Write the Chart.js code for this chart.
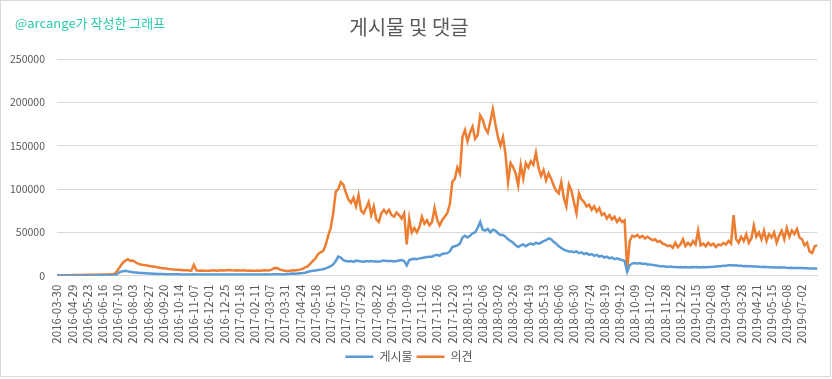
<!DOCTYPE html>
<html>
<head>
<meta charset="utf-8">
<script src="https://cdn.jsdelivr.net/npm/chart.js@4.4.1/dist/chart.umd.min.js"></script>
<style>
  html, body { margin: 0; padding: 0; background: #fff; }
  #wrap { position: relative; width: 832px; height: 379px; overflow: hidden; }
  #frame { position: absolute; left: 0; top: 0; width: 829px; height: 375px; border: 1px solid #d9d9d9; pointer-events: none; }
  #mark { position: absolute; left: 15px; top: 13px; font-family: 'Noto Sans CJK KR', 'Noto Sans', sans-serif; font-size: 13px; color: #2bcbaa; white-space: nowrap; }
  canvas { position: absolute; left: 0; top: 0; }
</style>
</head>
<body>
<div id="wrap">
  <canvas id="c" width="832" height="379"></canvas>
  <div id="frame"></div>
  <div id="mark">@arcange가 작성한 그래프</div>
</div>
<script>
const chartTitle = '게시물 및 댓글';
const seriesNames = ['게시물', '의견'];
const tickLabels = [
  '2016-03-30','2016-04-29','2016-05-23','2016-06-16','2016-07-10','2016-08-03','2016-08-27','2016-09-20','2016-10-14','2016-11-07','2016-12-01','2016-12-25',
  '2017-01-18','2017-02-11','2017-03-07','2017-03-31','2017-04-24','2017-05-18','2017-06-11','2017-07-05','2017-07-29','2017-08-22','2017-09-15','2017-10-09','2017-11-02','2017-11-26','2017-12-20',
  '2018-01-13','2018-02-06','2018-03-02','2018-03-26','2018-04-19','2018-05-13','2018-06-06','2018-06-30','2018-07-24','2018-08-19','2018-09-12','2018-10-09','2018-11-02','2018-11-28','2018-12-22',
  '2019-01-15','2019-02-08','2019-03-04','2019-03-28','2019-04-21','2019-05-15','2019-06-08','2019-07-02'
];
const pointsPerTick = 6;
const yTicks = [0, 50000, 100000, 150000, 200000, 250000];

const postsSeries = [
  100,100,150,150,200,200, 200,200,250,250,300,300, 300,300,350,350,400,400, 400,400,450,500,500,700,
  2500,4500,5200,5800,5000,4500, 4000,3800,3500,3200,3000,2800, 2600,2500,2300,2200,2100,2000, 1900,1800,1800,1700,1700,1600,
  1600,1500,1500,1500,1500,1500, 1800,1500,1400,1500,1400,1400, 1400,1450,1500,1400,1450,1500, 1400,1500,1450,1500,1400,1450,
  1450,1400,1500,1450,1400,1500, 1450,1500,1400,1500,1550,1500, 1500,1600,1800,1700,1600,1500, 1800,2000,2200,2500,2300,2600,
  2800,3000,3500,4500,5200,5800, 6000,6500,7000,7500,8500,9500, 11000,13000,17000,22000,21000,18000, 17000,16500,17000,16000,17500,17000,
  16500,16000,17000,16500,17000,16500, 16500,16000,17000,17500,17000,17000, 17000,16500,17000,17500,18000,17000, 12000,18000,19000,19500,19000,20000,
  20500,21000,21500,22000,22000,23500, 24000,23000,25000,25500,26000,28000, 33000,34000,35000,37000,44000,46000, 44000,46000,49000,50000,55000,62000,
  53000,52000,54000,50000,53000,52000, 49000,47000,47000,45000,42000,40000, 38000,35000,33000,35000,36000,34000, 36000,37000,36000,38000,37000,38000,
  40000,41000,43000,42000,39000,37000, 34000,32000,30000,29000,28000,28000, 27000,28000,26000,27000,25000,26000, 24000,25000,23000,24000,22000,23000,
  21000,22000,20000,21000,19000,20000, 19000,18000,17000,4500,12000,14000, 14500,14000,14500,13500,14000,13000, 13000,12500,12000,11500,11000,11000,
  10500,10000,10500,10000,10000,9800, 10000,9800,10000,9600,9800,10000, 9800,10000,9600,10000,9800,10000, 10000,10200,10500,10800,11000,11500,
  11500,12000,12000,11800,12000,11500, 11500,11000,11200,11000,10800,10500, 10500,10200,10000,10300,10000,9800, 9800,9600,9500,9800,9400,9500,
  9200,9000,9300,9000,8800,9000, 8800,8600,8500,8400,8300,8200,8100
];

const commentsSeries = [
  300,400,500,500,600,600, 700,800,800,900,900,1000, 1000,1100,1100,1200,1200,1300, 1300,1400,1500,1600,1800,2500,
  6500,11000,15000,17500,19000,17000, 17500,15500,14000,13000,12500,12000, 11500,11000,10500,10000,9500,9000, 8700,8200,7800,7500,7200,7000,
  6800,6500,6300,6200,6000,5800, 12500,6200,5800,6000,5600,5800, 5600,5900,6200,5800,6100,6400, 6000,6300,6600,6200,6000,6300,
  6100,5900,6200,5800,6000,5700, 5800,6100,5700,6000,6300,5900, 6200,7500,9000,8600,7000,6200, 5800,5500,5800,6200,6000,6500,
  7000,8000,9500,11000,14000,17000, 20000,25000,27000,28500,35000,46000, 55000,72000,97000,100000,108000,105000, 96000,88000,84000,90000,80000,93000,
  75000,72000,78000,85000,70000,80000, 65000,62000,72000,76000,72000,76000, 70000,68000,73000,70000,66000,72000, 36000,66000,50000,55000,50000,56000,
  68000,60000,64000,58000,62000,78000, 65000,58000,64000,68000,72000,82000, 108000,112000,125000,118000,160000,168000, 155000,165000,172000,158000,162000,185000,
  180000,170000,165000,178000,192000,175000, 160000,150000,160000,140000,108000,130000, 125000,118000,104000,128000,112000,130000, 125000,132000,128000,142000,125000,115000,
  122000,110000,118000,112000,104000,98000, 95000,108000,90000,80000,105000,98000, 85000,72000,95000,88000,85000,80000, 82000,76000,80000,74000,78000,70000,
  72000,66000,70000,65000,68000,62000, 66000,62000,64000,6500,40000,46000, 45000,47000,44000,46000,43000,45000, 43000,41000,42000,39000,40000,37000,
  36000,34000,35000,32000,38000,33000, 36000,42000,34000,38000,35000,40000, 36000,52000,35000,37000,34000,38000, 35000,37000,33000,36000,35000,38000,
  36000,40000,37000,70000,42000,38000, 45000,40000,48000,38000,43000,58000, 45000,50000,42000,52000,40000,48000, 44000,50000,38000,46000,52000,42000,
  55000,45000,52000,48000,54000,44000, 42000,35000,38000,28000,26000,34000,35000
];

const categories = postsSeries.map((_, i) =>
  (i % pointsPerTick === 0 && tickLabels[i / pointsPerTick]) ? tickLabels[i / pointsPerTick] : '');

const FONT = "'Noto Sans CJK KR', 'Noto Sans', sans-serif";
const GRAY = '#595959';

new Chart(document.getElementById('c'), {
  type: 'line',
  data: {
    labels: categories,
    datasets: [
      { label: seriesNames[0], data: postsSeries, borderColor: '#5B9BD5', backgroundColor: '#5B9BD5', borderWidth: 2.5, pointRadius: 0, tension: 0 },
      { label: seriesNames[1], data: commentsSeries, borderColor: '#ED7D31', backgroundColor: '#ED7D31', borderWidth: 2.5, pointRadius: 0, tension: 0 }
    ]
  },
  options: {
    responsive: false,
    animation: false,
    events: [],
    layout: { padding: { left: 0, right: 14, top: 0, bottom: 6.3 } },
    plugins: {
      tooltip: { enabled: false },
      title: {
        display: true, text: chartTitle, color: GRAY,
        font: { family: FONT, size: 20, weight: 'normal', lineHeight: 1.2 },
        padding: { top: 15.5, bottom: 19.5 }
      },
      legend: {
        position: 'bottom',
        labels: {
          color: GRAY, font: { family: FONT, size: 12 },
          usePointStyle: true, pointStyle: 'line', pointStyleWidth: 28, boxHeight: 12, padding: 4
        }
      }
    },
    scales: {
      x: {
        type: 'category',
        grid: { display: false },
        border: { display: true, color: '#d9d9d9' },
        ticks: {
          autoSkip: false, minRotation: 90, maxRotation: 90, padding: 1,
          color: GRAY, font: { family: FONT, size: 11.5 },
          callback: function(v, i) { return categories[i]; }
        },
        afterFit: function(s) { s.height = 71; }
      },
      y: {
        min: 0, max: 250000,
        afterBuildTicks: function(s) { s.ticks = yTicks.map(v => ({ value: v })); },
        grid: { color: '#d9d9d9', drawTicks: false },
        border: { display: false },
        ticks: { padding: 12, color: GRAY, font: { family: FONT, size: 10.5 }, callback: v => String(v) },
        afterFit: function(s) { s.width = 57; }
      }
    }
  }
});
</script>
</body>
</html>
